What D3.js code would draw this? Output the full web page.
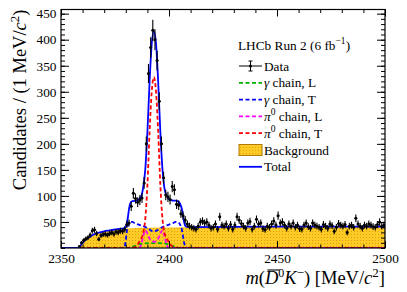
<!DOCTYPE html>
<html>
<head>
<meta charset="utf-8">
<script src="https://cdnjs.cloudflare.com/ajax/libs/d3/7.8.5/d3.min.js"></script>
<style>
body { margin: 0; background: #fff; }
svg { display: block; font-family: "Liberation Serif", "Times New Roman", serif; }
</style>
</head>
<body>
<div id="chart"></div>
<script>
// Chart data
const xTickLabels = [2350, 2400, 2450, 2500];
const yTickLabels = [50, 100, 150, 200, 250, 300, 350, 400, 450];

// candidates per 1 MeV bin, first bin starts at 2358
const firstBin = 2358;
const counts = [
  3, 10, 15, 18, 20, 25, 33, 35, 28, 17,
  24, 26, 27, 25, 28, 30, 27, 31, 30, 33,
  32, 36, 45, 48, 80, 105, 95, 88, 92, 96,
  125, 200, 335, 385, 418, 400, 360, 282, 200, 135,
  102, 98, 93, 118, 112, 84, 82, 66, 62, 54,
  46, 42, 40, 38, 36, 42, 50, 52, 48, 50,
  44, 38, 40, 46, 36, 60, 44, 42, 46, 38,
  45, 36, 44, 60, 54, 47, 42, 38, 48, 51,
  36, 42, 55, 46, 48, 37, 35, 42, 40, 46,
  52, 44, 62, 48, 50, 44, 38, 46, 42, 48,
  40, 44, 37, 36, 44, 48, 41, 38, 48, 44,
  42, 40, 36, 45, 42, 38, 46, 43, 32, 40,
  47, 44, 42, 45, 30, 42, 44, 40, 57, 46,
  42, 38, 44, 42, 46, 44, 41, 40, 45, 50,
  42, 44
];

// fit components: mass points and curve values
const bgMass  = [2350, 2358.5, 2359, 2360, 2361, 2362, 2363, 2364, 2365, 2366, 2368, 2370, 2372, 2375, 2378, 2381, 2385, 2390, 2400, 2420, 2450, 2480, 2500];
const bgVal   = [0, 0, 4, 9, 13, 16.5, 19.5, 22, 24.5, 26.5, 29, 31, 32.5, 34.5, 36, 37.5, 38.5, 39, 39.5, 40, 40.5, 40.5, 40.5];

const gammaTMass = [2350, 2379, 2379.5, 2380, 2380.5, 2381, 2382, 2383, 2384, 2386, 2388, 2390, 2392, 2393, 2394, 2396, 2398, 2400, 2402, 2403, 2404, 2405, 2406, 2406.5, 2407, 2407.5, 2408, 2500];
const gammaTVal  = [0, 0, 3, 15, 32, 44, 50, 50, 48, 45, 42, 38, 33, 32, 33, 38, 42, 45, 48, 50, 50, 46, 34, 22, 10, 3, 0, 0];

const gammaLMass = [2350, 2381, 2383, 2385, 2387, 2389, 2393, 2397, 2399, 2401, 2403, 2405, 2500];
const gammaLVal  = [0, 0, 2, 5, 8, 9, 9.5, 9, 8, 5, 2, 0, 0];

const pi0LMass = [2350, 2386, 2387, 2388, 2389, 2390, 2391, 2392, 2393, 2394, 2395, 2396, 2397, 2398, 2399, 2400, 2500];
const pi0LVal  = [0, 0, 5, 22, 34, 28, 18, 13, 12, 13, 18, 28, 34, 22, 5, 0, 0];

const pi0TMass = [2350, 2380, 2384, 2385, 2386, 2387, 2388, 2389, 2390, 2391, 2392, 2393, 2394, 2395, 2396, 2397, 2398, 2399, 2400, 2401, 2402, 2403, 2406, 2500];
const pi0TVal  = [0, 0, 1, 4, 10, 17, 28, 55, 120, 222, 300, 328, 300, 222, 120, 55, 28, 18, 11, 5, 2, 0.5, 0, 0];

const totalMass = [2350, 2358.5, 2359, 2360, 2361, 2362, 2363, 2364, 2365, 2366, 2368, 2370, 2372, 2375, 2378, 2379.5, 2380, 2380.5, 2381, 2381.5, 2382, 2383, 2385, 2387, 2388, 2389, 2390, 2391, 2392, 2393, 2394, 2395, 2396, 2397, 2398, 2399, 2400, 2401, 2402, 2403, 2404, 2405, 2406, 2406.5, 2407, 2407.5, 2408, 2410, 2450, 2500];
const totalVal  = [0, 0, 4, 9.5, 14, 17.5, 20.5, 23, 25.5, 27.5, 30, 32, 33.5, 35.5, 37, 39, 41, 48, 60, 75, 85, 90, 91, 98, 115, 150, 222, 318, 392, 416, 392, 318, 222, 150, 112, 100, 94, 92, 91, 91, 90, 86, 74, 62, 50, 43, 41, 40, 41, 41];

const legendNames = ['Data', 'γ chain, L', 'γ chain, T', 'π0 chain, L', 'π0 chain, T', 'Background', 'Total'];

// Layout
const width = 407, height = 292;
const x0 = 61, x1 = 385, y0 = 248, y1 = 9.5;

const svg = d3.select('#chart')
  .append('svg')
  .attr('width', width)
  .attr('height', height);

const defs = svg.append('defs');
defs.append('clipPath').attr('id', 'plotclip')
  .append('rect')
  .attr('x', x0).attr('y', y1)
  .attr('width', x1 - x0).attr('height', y0 - y1);

// dotted yellow fill like the ROOT hatch
const pat = defs.append('pattern')
  .attr('id', 'bgfill')
  .attr('patternUnits', 'userSpaceOnUse')
  .attr('width', 3).attr('height', 3);
pat.append('rect').attr('width', 3).attr('height', 3).attr('fill', '#fdcb26');
pat.append('rect').attr('x', 0).attr('y', 0).attr('width', 1).attr('height', 1).attr('fill', '#e39a0c');

const x = d3.scaleLinear().domain([2350, 2500]).range([x0, x1]);
const y = d3.scaleLinear().domain([0, 458]).range([y0, y1]);

const plot = svg.append('g').attr('clip-path', 'url(#plotclip)');

// background area
const bgData = bgMass.map((m, i) => [m, bgVal[i]]);
plot.append('path')
  .datum(bgData)
  .attr('fill', 'url(#bgfill)')
  .attr('d', d3.area()
    .x(d => x(d[0]))
    .y0(y(0))
    .y1(d => y(d[1]))
    .curve(d3.curveMonotoneX));

const line = d3.line()
  .x(d => x(d[0]))
  .y(d => y(d[1]))
  .curve(d3.curveMonotoneX);

const components = [
  {mass: gammaTMass, val: gammaTVal, color: '#0000ff'},
  {mass: gammaLMass, val: gammaLVal, color: '#00b000'},
  {mass: pi0LMass, val: pi0LVal, color: '#ff00ff'},
  {mass: pi0TMass, val: pi0TVal, color: '#ff0000'}
];

components.forEach(function (c) {
  plot.append('path')
    .datum(c.mass.map((m, i) => [m, c.val[i]]))
    .attr('fill', 'none')
    .attr('stroke', c.color)
    .attr('stroke-width', 1.8)
    .attr('stroke-dasharray', '4,2.5')
    .attr('d', line);
});

// total fit
plot.append('path')
  .datum(totalMass.map((m, i) => [m, totalVal[i]]))
  .attr('fill', 'none')
  .attr('stroke', '#0000ff')
  .attr('stroke-width', 1.8)
  .attr('d', line);

// data points with poisson errors
const points = counts.map((n, i) => ({m: firstBin + i + 0.5, n: n}));
const pg = plot.append('g').attr('class', 'data');
pg.selectAll('line.ey')
  .data(points)
  .enter()
  .append('line')
  .attr('x1', d => x(d.m)).attr('x2', d => x(d.m))
  .attr('y1', d => y(d.n + Math.sqrt(d.n)))
  .attr('y2', d => y(Math.max(0, d.n - Math.sqrt(d.n))))
  .attr('stroke', '#000')
  .attr('stroke-width', 1.1);
pg.selectAll('line.ex')
  .data(points)
  .enter()
  .append('line')
  .attr('x1', d => x(d.m - 0.5)).attr('x2', d => x(d.m + 0.5))
  .attr('y1', d => y(d.n)).attr('y2', d => y(d.n))
  .attr('stroke', '#000')
  .attr('stroke-width', 1);
pg.selectAll('circle')
  .data(points)
  .enter()
  .append('circle')
  .attr('cx', d => x(d.m))
  .attr('cy', d => y(d.n))
  .attr('r', 1.5)
  .attr('fill', '#000');

// axes: ticks inward on all sides
const xMinor = d3.range(2350, 2501, 10);
const yMinor = d3.range(0, 458, 10);

function styleAxis(g) {
  g.select('.domain').remove();
  g.selectAll('line').attr('stroke', '#000');
  g.selectAll('text')
    .attr('font-family', '"Liberation Serif", serif')
    .attr('font-size', 13.3)
    .attr('fill', '#000');
}

svg.append('g').attr('transform', `translate(0,${y0})`)
  .call(d3.axisBottom(x).tickValues(xTickLabels).tickSize(-7).tickPadding(5.5).tickFormat(d3.format('d')))
  .call(styleAxis);
svg.append('g').attr('transform', `translate(0,${y0})`)
  .call(d3.axisBottom(x).tickValues(xMinor).tickSize(-3.5).tickFormat(''))
  .call(styleAxis);
svg.append('g').attr('transform', `translate(0,${y1})`)
  .call(d3.axisTop(x).tickValues(xTickLabels).tickSize(-7).tickFormat(''))
  .call(styleAxis);
svg.append('g').attr('transform', `translate(0,${y1})`)
  .call(d3.axisTop(x).tickValues(xMinor).tickSize(-3.5).tickFormat(''))
  .call(styleAxis);

svg.append('g').attr('transform', `translate(${x0},0)`)
  .call(d3.axisLeft(y).tickValues(yTickLabels).tickSize(-8).tickPadding(4.5))
  .call(styleAxis);
svg.append('g').attr('transform', `translate(${x0},0)`)
  .call(d3.axisLeft(y).tickValues(yMinor).tickSize(-4).tickFormat(''))
  .call(styleAxis);
svg.append('g').attr('transform', `translate(${x1},0)`)
  .call(d3.axisRight(y).tickValues(yTickLabels).tickSize(-8).tickFormat(''))
  .call(styleAxis);
svg.append('g').attr('transform', `translate(${x1},0)`)
  .call(d3.axisRight(y).tickValues(yMinor).tickSize(-4).tickFormat(''))
  .call(styleAxis);

// frame
svg.append('rect')
  .attr('x', x0).attr('y', y1)
  .attr('width', x1 - x0).attr('height', y0 - y1)
  .attr('fill', 'none')
  .attr('stroke', '#000')
  .attr('stroke-width', 1.2);

// axis titles
const yTitle = svg.append('text')
  .attr('transform', `translate(26,${y1}) rotate(-90)`)
  .attr('text-anchor', 'end')
  .attr('font-size', 18.5);
yTitle.append('tspan').text('Candidates / (1 MeV/');
yTitle.append('tspan').attr('font-style', 'italic').text('c');
yTitle.append('tspan').attr('font-size', 13).attr('dy', -7).text('2');
yTitle.append('tspan').attr('dy', 7).text(')');

const xTitle = svg.append('text')
  .attr('x', x1).attr('y', 284)
  .attr('text-anchor', 'end')
  .attr('font-size', 18.5);
xTitle.append('tspan').attr('font-style', 'italic').text('m');
xTitle.append('tspan').text('(');
xTitle.append('tspan').attr('font-style', 'italic').text('D');
xTitle.append('tspan').attr('font-size', 12).attr('dy', -7.5).text('0');
xTitle.append('tspan').attr('font-style', 'italic').attr('dy', 7.5).text('K');
xTitle.append('tspan').attr('font-size', 13).attr('dy', -7).text('\u2212');
xTitle.append('tspan').attr('dy', 7).text(') [MeV/');
xTitle.append('tspan').attr('font-style', 'italic').text('c');
xTitle.append('tspan').attr('font-size', 13).attr('dy', -7).text('2');
xTitle.append('tspan').attr('dy', 7).text(']');

// bar over the D
const dBox = xTitle.node().getExtentOfChar(2);
svg.append('line')
  .attr('x1', dBox.x + 2.5).attr('x2', dBox.x + dBox.width + 1.5)
  .attr('y1', dBox.y + 2).attr('y2', dBox.y + 2)
  .attr('stroke', '#000').attr('stroke-width', 1.1);

// legend
const legend = svg.append('g').attr('font-size', 13.3);
const lt = legend.append('text').attr('x', 238).attr('y', 50);
lt.append('tspan').text('LHCb Run 2 (6 fb');
lt.append('tspan').attr('font-size', 9.5).attr('dy', -6).text('\u22121');
lt.append('tspan').attr('dy', 6).text(')');

const rowY = d3.range(legendNames.length).map(i => 66 + i * 16.8);
const lx0 = 239, lx1 = 262;

legendNames.forEach(function (name, i) {
  const ty = rowY[i];
  const t = legend.append('text').attr('x', 264).attr('y', ty + 4.5);
  if (name.startsWith('γ')) {
    t.append('tspan').attr('font-style', 'italic').text('γ');
    t.append('tspan').text(name.slice(1));
  } else if (name.startsWith('π0')) {
    t.append('tspan').attr('font-style', 'italic').text('π');
    t.append('tspan').attr('font-size', 9.5).attr('dy', -6).text('0');
    t.append('tspan').attr('dy', 6).text(name.slice(2));
  } else {
    t.text(name);
  }
});

// legend symbols
legend.append('line').attr('x1', lx0).attr('x2', lx1).attr('y1', rowY[0]).attr('y2', rowY[0]).attr('stroke', '#000');
legend.append('line').attr('x1', (lx0 + lx1) / 2).attr('x2', (lx0 + lx1) / 2).attr('y1', rowY[0] - 5).attr('y2', rowY[0] + 5).attr('stroke', '#000');
[-5, 5].forEach(function (o) {
  legend.append('line').attr('x1', (lx0 + lx1) / 2 - 2).attr('x2', (lx0 + lx1) / 2 + 2)
    .attr('y1', rowY[0] + o).attr('y2', rowY[0] + o).attr('stroke', '#000');
});
legend.append('circle').attr('cx', (lx0 + lx1) / 2).attr('cy', rowY[0]).attr('r', 1.5);

['#00b000', '#0000ff', '#ff00ff', '#ff0000'].forEach(function (c, i) {
  legend.append('line')
    .attr('x1', lx0).attr('x2', lx1)
    .attr('y1', rowY[i + 1]).attr('y2', rowY[i + 1])
    .attr('stroke', c).attr('stroke-width', 1.8)
    .attr('stroke-dasharray', '4,2.5');
});

legend.append('rect')
  .attr('x', lx0).attr('y', rowY[5] - 5.5)
  .attr('width', lx1 - lx0).attr('height', 11)
  .attr('fill', 'url(#bgfill)')
  .attr('stroke', '#b07a00').attr('stroke-width', 1);

legend.append('line')
  .attr('x1', lx0).attr('x2', lx1)
  .attr('y1', rowY[6]).attr('y2', rowY[6])
  .attr('stroke', '#0000ff').attr('stroke-width', 1.8);
</script>
</body>
</html>
